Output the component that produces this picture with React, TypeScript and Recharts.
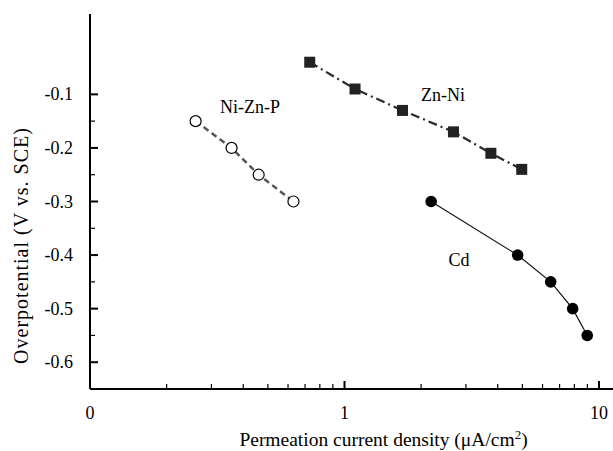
import React from "react"
import {
  ComposedChart,
  Scatter,
  XAxis,
  YAxis,
  Label,
  ReferenceDot,
} from "recharts"

// values
const niZnP = [
  { x: 0.26, y: -0.15 },
  { x: 0.36, y: -0.2 },
  { x: 0.46, y: -0.25 },
  { x: 0.63, y: -0.3 },
]

const znNi = [
  { x: 0.73, y: -0.04 },
  { x: 1.1, y: -0.09 },
  { x: 1.69, y: -0.13 },
  { x: 2.68, y: -0.17 },
  { x: 3.76, y: -0.21 },
  { x: 4.97, y: -0.24 },
]

const cd = [
  { x: 2.19, y: -0.3 },
  { x: 4.79, y: -0.4 },
  { x: 6.46, y: -0.45 },
  { x: 7.88, y: -0.5 },
  { x: 8.99, y: -0.55 },
]

const seriesLabels = [
  { name: "Ni-Zn-P", x: 0.425, y: -0.122 },
  { name: "Zn-Ni", x: 2.44, y: -0.101 },
  { name: "Cd", x: 2.82, y: -0.409 },
]

const xMajorTicks = [0.1, 1, 10]
const xTickLabels = ["0", "1", "10"]
const xMinorTicks = [0.2, 0.3, 0.4, 0.5, 0.6, 0.7, 0.8, 0.9, 2, 3, 4, 5, 6, 7, 8, 9]
const yMajorTicks = [-0.1, -0.2, -0.3, -0.4, -0.5, -0.6]
const yTickLabels = ["-0.1", "-0.2", "-0.3", "-0.4", "-0.5", "-0.6"]
const yMinorTicks = [-0.15, -0.25, -0.35, -0.45, -0.55]

const FONT = "Liberation Serif, DejaVu Serif, serif"
const textStyle = { fontFamily: FONT, fontSize: 18 }
const xTicks = [...xMajorTicks, ...xMinorTicks]
const yTicks = [...yMajorTicks, ...yMinorTicks]

function BottomTick(props: any) {
  const { x, y, payload } = props
  const i = xMajorTicks.indexOf(payload.value)
  const major = i >= 0
  return (
    <g>
      <line x1={x} x2={x} y1={y} y2={y - (major ? 8 : 5)} stroke="#000" strokeWidth={major ? 2 : 1.2} />
      {major && (
        <text x={x} y={y + 30} textAnchor="middle" style={textStyle} fill="#000">
          {xTickLabels[i]}
        </text>
      )}
    </g>
  )
}

function TopTick(props: any) {
  const { x, y, payload } = props
  const major = xMajorTicks.indexOf(payload.value) >= 0
  return (
    <line x1={x} x2={x} y1={y} y2={y + (major ? 8 : 5)} stroke="#000" strokeWidth={major ? 2 : 1.2} />
  )
}

function LeftTick(props: any) {
  const { x, y, payload } = props
  const i = yMajorTicks.indexOf(payload.value)
  const major = i >= 0
  return (
    <g>
      <line x1={x} x2={x + (major ? 8 : 5)} y1={y} y2={y} stroke="#000" strokeWidth={major ? 2 : 1.2} />
      {major && (
        <text x={x - 17} y={y} textAnchor="end" dominantBaseline="central" style={textStyle} fill="#000">
          {yTickLabels[i]}
        </text>
      )}
    </g>
  )
}

const OpenCircle = (p: any) => (
  <circle cx={p.cx} cy={p.cy} r={5.5} fill="#fff" stroke="#000" strokeWidth={1.2} />
)
const FilledCircle = (p: any) => <circle cx={p.cx} cy={p.cy} r={5.8} fill="#000" />
const FilledSquare = (p: any) => (
  <rect x={p.cx - 5.5} y={p.cy - 5.5} width={11} height={11} fill="#222" />
)

export default function App() {
  return (
    <div style={{ position: "absolute", left: 0, top: 0, fontFamily: FONT }}>
      <ComposedChart width={613} height={451} margin={{ top: 14, right: 0, bottom: 0, left: 0 }}>
        <XAxis
          xAxisId="bottom"
          type="number"
          dataKey="x"
          scale="log"
          domain={[0.1, 11.35]}
          allowDataOverflow
          ticks={xTicks}
          interval={0}
          tick={<BottomTick />}
          tickLine={false}
          tickSize={0}
          tickMargin={0}
          height={62}
          axisLine={{ stroke: "#000", strokeWidth: 2 }}
        >
          <Label
            content={(props: any) => {
              const vb = props.viewBox
              return (
                <text
                  x={vb.x + vb.width / 2 + 32}
                  y={vb.y + 57}
                  textAnchor="middle"
                  style={{ fontFamily: FONT, fontSize: 19.5 }}
                  fill="#000"
                >
                  Permeation current density (μA/cm
                  <tspan dy={-7} fontSize={13}>2</tspan>
                  <tspan dy={7}>)</tspan>
                </text>
              )
            }}
          />
        </XAxis>
        <XAxis
          xAxisId="top"
          orientation="top"
          type="number"
          dataKey="x"
          scale="log"
          domain={[0.1, 11.35]}
          allowDataOverflow
          ticks={xTicks}
          interval={0}
          tick={<TopTick />}
          tickLine={false}
          tickSize={0}
          tickMargin={0}
          height={0}
          axisLine={{ stroke: "#000", strokeWidth: 2 }}
        />
        <YAxis
          type="number"
          dataKey="y"
          domain={[-0.65, 0.05]}
          allowDataOverflow
          ticks={yTicks}
          interval={0}
          tick={<LeftTick />}
          tickLine={false}
          tickSize={0}
          tickMargin={0}
          width={90}
          axisLine={{ stroke: "#000", strokeWidth: 2 }}
        >
          <Label
            content={(props: any) => {
              const vb = props.viewBox
              const cx = vb.x + 21
              const cy = vb.y + vb.height / 2 + 44
              return (
                <text
                  x={cx}
                  y={cy}
                  transform={`rotate(-90 ${cx} ${cy})`}
                  textAnchor="middle"
                  dominantBaseline="central"
                  style={{ fontFamily: FONT, fontSize: 20, letterSpacing: 1 }}
                  fill="#000"
                >
                  Overpotential (V vs. SCE)
                </text>
              )
            }}
          />
        </YAxis>

        <Scatter
          xAxisId="bottom"
          data={niZnP}
          line={{ stroke: "#555", strokeWidth: 2.5, strokeDasharray: "6 4" }}
          shape={OpenCircle}
          isAnimationActive={false}
        />
        <Scatter
          xAxisId="bottom"
          data={znNi}
          line={{ stroke: "#2a2a2a", strokeWidth: 2.2, strokeDasharray: "9 4 2 4" }}
          shape={FilledSquare}
          isAnimationActive={false}
        />
        <Scatter
          xAxisId="bottom"
          data={cd}
          line={{ stroke: "#111", strokeWidth: 1.2 }}
          shape={FilledCircle}
          isAnimationActive={false}
        />

        {seriesLabels.map((s) => (
          <ReferenceDot
            key={s.name}
            xAxisId="bottom"
            x={s.x}
            y={s.y}
            r={0}
            fill="none"
            stroke="none"
            label={{ value: s.name, position: "center", style: textStyle, fill: "#000" }}
          />
        ))}
      </ComposedChart>
    </div>
  )
}
